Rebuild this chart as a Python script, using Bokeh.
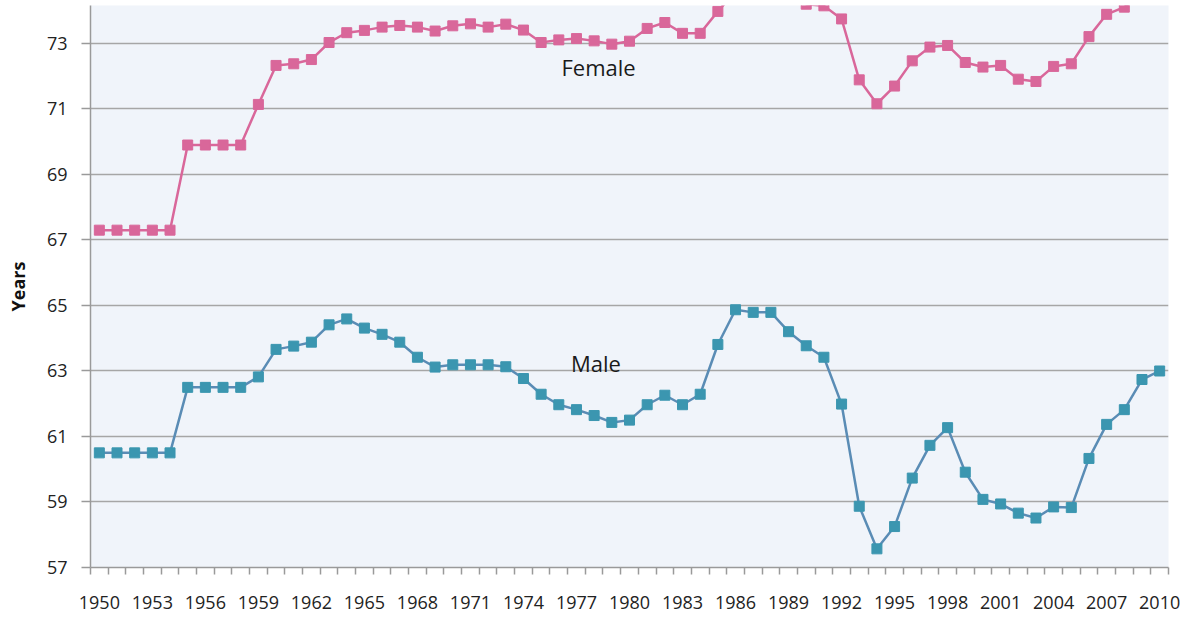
from bokeh.plotting import figure
from bokeh.models import FixedTicker, Range1d, ColumnDataSource
from bokeh.core.properties import value
from bokeh.embed import file_html
from bokeh.resources import INLINE

years = list(range(1950, 2011))
female = [67.3, 67.3, 67.3, 67.3, 67.3,
          69.9, 69.9, 69.9, 69.9,
          71.14, 72.33, 72.38, 72.51, 73.03, 73.33, 73.40, 73.50, 73.55,
          73.50, 73.38, 73.54, 73.60, 73.50, 73.59, 73.41, 73.03, 73.11, 73.15,
          73.08, 72.98, 73.07, 73.46, 73.64, 73.31, 73.31, 73.98, 74.6, 74.6,
          74.4, 74.5,
          74.2, 74.15, 73.75, 71.89, 71.16, 71.70, 72.47, 72.89, 72.94, 72.42,
          72.28, 72.33, 71.91, 71.84, 72.30, 72.38, 73.21, 73.89, 74.11, 74.5, 74.9]
male = [60.5, 60.5, 60.5, 60.5, 60.5,
        62.5, 62.5, 62.5, 62.5,
        62.82, 63.66, 63.76, 63.88, 64.41, 64.59, 64.31, 64.12, 63.88,
        63.42, 63.12, 63.19, 63.19, 63.19, 63.13, 62.77, 62.29, 61.97, 61.82,
        61.64, 61.43, 61.50, 61.97, 62.26, 61.97, 62.29, 63.81, 64.87, 64.79,
        64.79, 64.20,
        63.77, 63.42, 61.99, 58.87, 57.57, 58.25, 59.73, 60.73, 61.27, 59.91,
        59.08, 58.94, 58.66, 58.51, 58.85, 58.83, 60.33, 61.37, 61.82, 62.74, 63.0]
year_labels = list(range(1950, 2011, 3))
y_ticks = [57, 59, 61, 63, 65, 67, 69, 71, 73]
series_names = ["Female", "Male"]
name_x = [1978.25, 1978.1]
name_y = [72.27, 63.23]

FEMALE_C = "#d9679a"
MALE_MARK = "#3b96b0"
MALE_LINE = "#5a8cb5"
FONT = "Open Sans"

p = figure(width=1185, height=612, output_backend="svg", toolbar_location=None,
           x_range=Range1d(1949.5, 2010.5), y_range=Range1d(57, 74.16),
           min_border_left=90, min_border_right=17, min_border_top=5,
           min_border_bottom=45)
p.background_fill_color = "#f0f4fa"
p.border_fill_color = "white"
p.outline_line_color = None

src = ColumnDataSource(dict(year=years, female=female, male=male))
p.line("year", "female", source=src, line_color=FEMALE_C, line_width=2.5)
p.scatter("year", "female", source=src, marker="square", size=10,
          fill_color=FEMALE_C, line_color=FEMALE_C)
p.line("year", "male", source=src, line_color=MALE_LINE, line_width=2.5)
p.scatter("year", "male", source=src, marker="square", size=10,
          fill_color=MALE_MARK, line_color=MALE_MARK)

p.text(x=name_x, y=name_y, text=series_names, text_align="center",
       text_baseline="middle", text_font=value(FONT), text_font_size="22px",
       text_color="#1a1a1a")

# x axis: labels at year centres, tick marks between years
xa = p.xaxis[0]
xa.ticker = FixedTicker(ticks=year_labels,
                        minor_ticks=[y - 0.5 for y in years] + [years[-1] + 0.5])
xa.major_tick_line_color = None
xa.major_tick_out = 0
xa.major_tick_in = 0
xa.minor_tick_out = 7
xa.minor_tick_in = 0
xa.minor_tick_line_color = "#9a9a9a"
xa.minor_tick_line_width = 1.5
xa.axis_line_color = "#9a9a9a"
xa.axis_line_width = 1.5
xa.major_label_standoff = 21
xa.major_label_text_font = FONT
xa.major_label_text_font_size = "18px"
xa.major_label_text_color = "#222222"

ya = p.yaxis[0]
ya.ticker = FixedTicker(ticks=y_ticks)
ya.minor_tick_line_color = None
ya.major_tick_out = 9
ya.major_tick_in = 0
ya.major_tick_line_color = "#9a9a9a"
ya.major_tick_line_width = 1.5
ya.axis_line_color = "#9a9a9a"
ya.axis_line_width = 1.5
ya.major_label_standoff = 14
ya.major_label_text_font = FONT
ya.major_label_text_font_size = "18px"
ya.major_label_text_color = "#222222"
ya.axis_label = "Years"
ya.axis_label_text_font = FONT
ya.axis_label_text_font_style = "bold"
ya.axis_label_text_font_size = "18px"
ya.axis_label_text_color = "#111111"
ya.axis_label_standoff = 14

p.xgrid.grid_line_color = None
p.ygrid.ticker = FixedTicker(ticks=y_ticks)
p.ygrid.grid_line_color = "#a6a6a6"
p.ygrid.grid_line_width = 1.5

open("out.html", "w").write(file_html(p, INLINE))
